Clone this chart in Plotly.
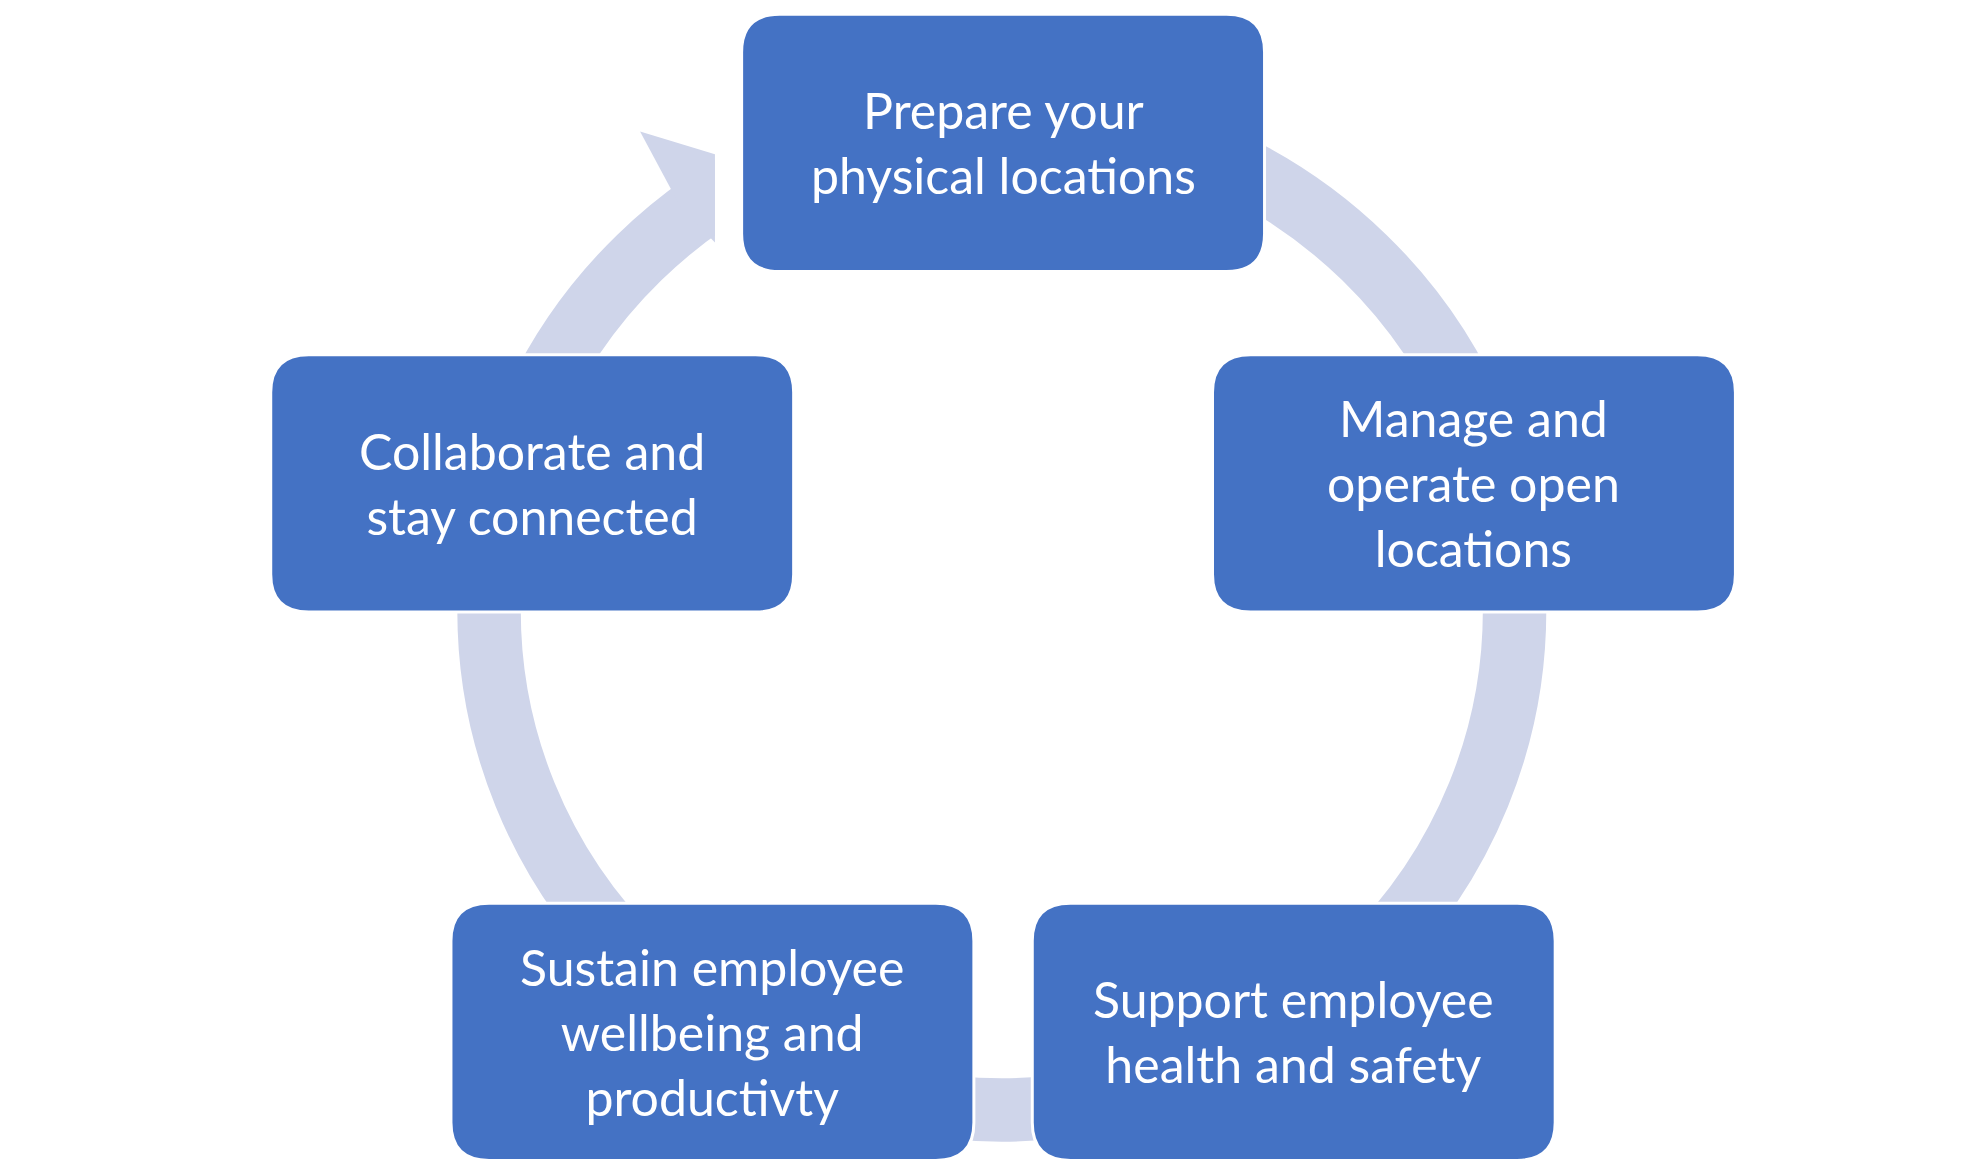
import plotly.graph_objects as go

# step labels and box positions (reference pixel space, 1560 x 920)
labels = [
    "Prepare your<br>physical locations",
    "Manage and<br>operate open<br>locations",
    "Support employee<br>health and safety",
    "Sustain employee<br>wellbeing and<br>productivty",
    "Collaborate and<br>stay connected",
]
box_x0 = [578, 949, 807, 349, 207]
box_y0 = [5, 275, 710, 710, 275]
box_w = 412
box_h = 204

BLUE = "#4472C4"
RING = "#CFD5EA"
W, H = 1560, 920
sx = 1980 / W


def rounded_box(x0, y0, w, h, r=30):
    x1, y1 = x0 + w, y0 + h
    return (
        f"M {x0 + r},{y0} L {x1 - r},{y0} Q {x1},{y0} {x1},{y0 + r} "
        f"L {x1},{y1 - r} Q {x1},{y1} {x1 - r},{y1} "
        f"L {x0 + r},{y1} Q {x0},{y1} {x0},{y1 - r} "
        f"L {x0},{y0 + r} Q {x0},{y0} {x0 + r},{y0} Z"
    )


fig = go.Figure()
shapes = [
    # the cycle ring
    dict(type="circle", x0=783 - 404, x1=783 + 404, y0=478 - 396, y1=478 + 396,
         line=dict(color=RING, width=50 * sx), layer="below"),
    # white gap between arrowhead and first box
    dict(type="rect", x0=557, x1=578, y0=60, y1=210,
         fillcolor="white", line=dict(width=0), layer="below"),
    # arrowhead pointing into the first box
    dict(type="path", path="M 498,98 L 557,116 L 557,186 L 530,158 Z",
         fillcolor=RING, line=dict(width=0), layer="below"),
]
for x0, y0 in zip(box_x0, box_y0):
    shapes.append(dict(type="path", path=rounded_box(x0, y0, box_w, box_h),
                       fillcolor=BLUE, line=dict(color="white", width=3)))

for lab, x0, y0 in zip(labels, box_x0, box_y0):
    fig.add_annotation(x=x0 + box_w / 2, y=y0 + box_h / 2, text=lab,
                       showarrow=False, font=dict(family="Lato", size=50, color="white"))

fig.add_trace(go.Scatter(x=[0, W], y=[0, H], mode="markers",
                         marker=dict(opacity=0), hoverinfo="skip", showlegend=False))
fig.update_layout(
    width=1980, height=1160, margin=dict(l=0, r=0, t=0, b=0),
    plot_bgcolor="white", paper_bgcolor="white", shapes=shapes,
)
fig.update_xaxes(range=[0, W], visible=False)
fig.update_yaxes(range=[H, 0], visible=False)
fig.write_html("out.html")
